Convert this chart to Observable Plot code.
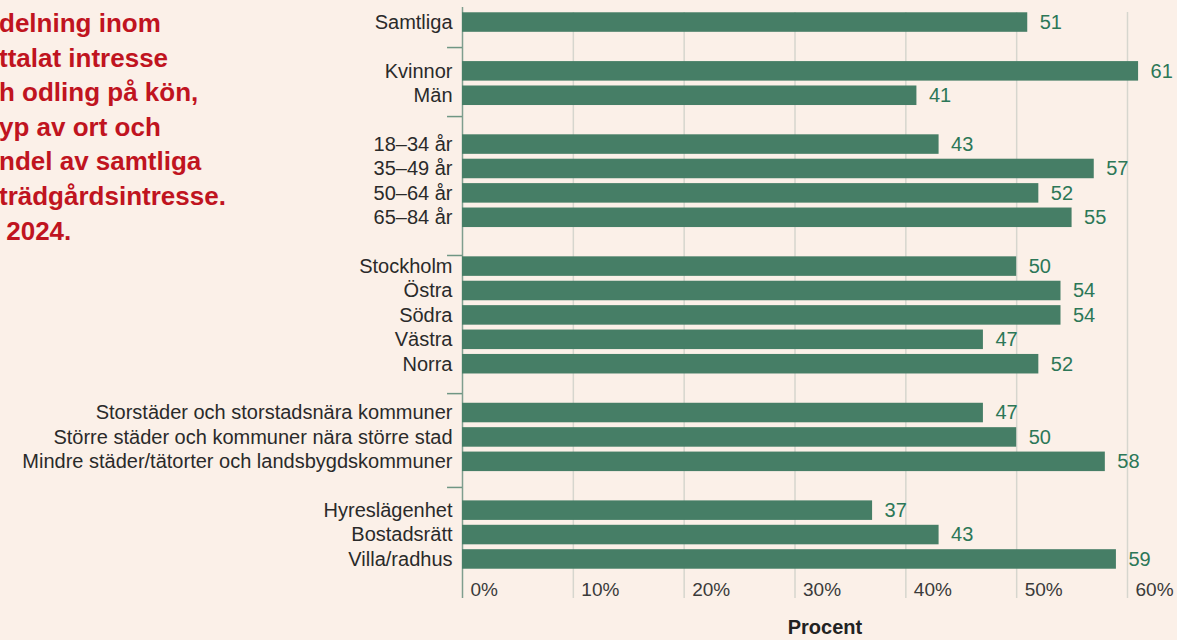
<!DOCTYPE html>
<html>
<head>
<meta charset="utf-8">
<script src="https://cdn.jsdelivr.net/npm/d3@7"></script>
<script src="https://cdn.jsdelivr.net/npm/@observablehq/plot@0.6"></script>
<style>
  html, body { margin: 0; padding: 0; background: #fbf0e8; }
  #wrap { position: relative; width: 1177px; height: 640px; overflow: hidden; background: #fbf0e8; }
  #title { position: absolute; left: -1px; top: 6px; margin: 0; white-space: pre;
    font-family: "Liberation Sans", Arial, sans-serif; font-weight: bold;
    font-size: 26px; line-height: 34.6px; color: #c0141f; }
  svg { font-family: "Liberation Sans", Arial, sans-serif; }
</style>
</head>
<body>
<div id="wrap">
  <div id="title"></div>
</div>
<script>
const titleLines = ["delning inom", "ttalat intresse", "h odling på kön,", "yp av ort och", "ndel av samtliga", "trädgårdsintresse.", " 2024."];
const categories = ["Samtliga", "gap1", "Kvinnor", "Män", "gap2", "18–34 år", "35–49 år", "50–64 år", "65–84 år", "gap3",
  "Stockholm", "Östra", "Södra", "Västra", "Norra", "gap4",
  "Storstäder och storstadsnära kommuner", "Större städer och kommuner nära större stad", "Mindre städer/tätorter och landsbygdskommuner", "gap5",
  "Hyreslägenhet", "Bostadsrätt", "Villa/radhus"];
const values = [51, null, 61, 41, null, 43, 57, 52, 55, null, 50, 54, 54, 47, 52, null, 47, 50, 58, null, 37, 43, 59];
const gaps = ["gap1", "gap2", "gap3", "gap4", "gap5"];
const xTicks = [0, 10, 20, 30, 40, 50, 60];
const xLabel = "Procent";

document.getElementById("title").textContent = titleLines.join("\n");

const data = categories.map((c, i) => ({cat: c, value: values[i]})).filter(d => d.value != null);
const realCats = categories.filter(c => !gaps.includes(c));

const sepStyle = {y: d => d, x1: -1.35, x2: 0, stroke: "#6f9684", strokeWidth: 1.5};

const chart = Plot.plot({
  width: 1177,
  height: 640,
  marginLeft: 462,
  marginRight: 50,
  marginTop: 10,
  marginBottom: 42,
  style: {background: "transparent", fontSize: "19px"},
  x: {domain: [0, 60], axis: null},
  y: {domain: categories, range: [7.4, 573.6], padding: 0.2, round: false, axis: null, label: null},
  marks: [
    Plot.ruleX(xTicks.slice(1), {stroke: "#d6d6ce", strokeWidth: 1.5, insetTop: 2}),
    Plot.ruleX([0], {stroke: "#7f9e8e", strokeWidth: 1.5, insetTop: -3}),
    Plot.ruleY([gaps[0]], {...sepStyle, dy: 0.6}),
    Plot.ruleY([gaps[1]], {...sepStyle, dy: -3.6}),
    Plot.ruleY([gaps[2]], {...sepStyle, dy: 13.3}),
    Plot.ruleY([gaps[3]], {...sepStyle, dy: 5}),
    Plot.ruleY([gaps[4]], {...sepStyle, dy: 1.2}),
    Plot.barX(data, {x: "value", y: "cat", fill: "#467e66"}),
    Plot.text(data, {x: "value", y: "cat", text: d => String(d.value), textAnchor: "start", dx: 12, fill: "#2c7757", fontSize: 20}),
    Plot.axisY(realCats, {tickSize: 0, tickPadding: 10, fontSize: 20, fill: "#2a2a2a", label: null}),
    Plot.text(xTicks, {x: d => d, text: d => d + "%", frameAnchor: "bottom", dy: -3, textAnchor: "start", dx: 8, fill: "#3a3a3a", fontSize: 19}),
    Plot.text([xLabel], {x: 32.7, frameAnchor: "bottom", dy: 35, text: d => d, fontWeight: "bold", fontSize: 20, fill: "#222"})
  ]
});
document.getElementById("wrap").appendChild(chart);
</script>
</body>
</html>
